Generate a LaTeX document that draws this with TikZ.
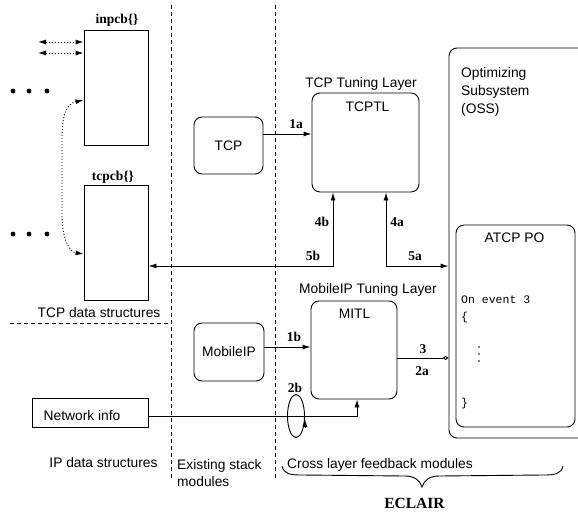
\documentclass[tikz,border=0pt]{standalone}
\usepackage{fontspec}
\setmainfont{Liberation Sans}
\newfontfamily\tnr{Liberation Serif}
\setmonofont{Liberation Mono}
\usetikzlibrary{arrows.meta,shapes.geometric}
\begin{document}
\begin{tikzpicture}[x=1pt,y=-1pt,
  every node/.style={inner sep=0pt, font=\fontsize{13.8}{18}\selectfont},
  ln/.style={line width=0.9pt},
  rbox/.style={draw, line width=0.9pt, rounded corners=8pt},
  sbox/.style={draw, line width=0.9pt},
  num/.style={font=\tnr\bfseries\fontsize{13.5}{16}\selectfont},
  code/.style={font=\ttfamily\fontsize{11.5}{14}\selectfont},
  dsh/.style={line width=0.9pt, dash pattern=on 4pt off 3pt},
  dotl/.style={line width=0.9pt, dash pattern=on 1pt off 2pt},
  >={Latex[length=8pt,width=5pt]}
]
\useasboundingbox (0,0) rectangle (578,512);

% separators
\draw[dsh] (171,5) -- (171,480);
\draw[dsh] (275,5) -- (275,478);
\draw[dsh] (10,323) -- (171,323);

% TCP data structures
\node[sbox, minimum width=64pt, minimum height=115pt] (inpcb) at (116,87.5) {};
\node[num] (inpcbl) at (117,20) {inpcb\{\}};
\node[sbox, minimum width=64pt, minimum height=115pt] (tcpcb) at (116,242.5) {};
\node[num] (tcpcbl) at (113,177) {tcpcb\{\}};
\node (tcpds) at (99,313) {TCP data structures};

\coordinate (da1) at (38,42);
\coordinate (da2) at (38,53);
\draw[dotl,<->] (da1) -- (da1 -| inpcb.west);
\draw[dotl,<->] (da2) -- (da2 -| inpcb.west);
\foreach \x in {13,29,47} {\fill (\x,91) circle (2.4pt); \fill (\x,234) circle (2.4pt);}
\draw[dotl,<->] (inpcb.west |- 0,100) .. controls (66,104) and (62,115) .. (62,140) -- (62,215)
   .. controls (62,240) and (70,252) .. (tcpcb.west |- 0,254);

% existing stack modules
\node[rbox, minimum width=69pt, minimum height=57pt] (tcp) at (228.5,145.5) {TCP};
\node[rbox, minimum width=70pt, minimum height=58pt] (mip) at (229,352) {MobileIP};

% TCPTL
\node (tcptll) at (361,84) {TCP Tuning Layer};
\node[rbox, minimum width=107pt, minimum height=99pt] (tcptl) at (365.5,142.5) {};
\node (tcptlt) at (367.5,107) {TCPTL};
\draw[ln,->] (tcp.east |- 0,134) -- (tcptl.west |- 0,134);
\node[num] (l1a) at (296,124) {1a};

% MITL
\node (mitll) at (368,290) {MobileIP Tuning Layer};
\node[rbox, minimum width=86pt, minimum height=98pt] (mitl) at (354,350) {};
\node (mitlt) at (354.5,314) {MITL};
\draw[ln,->] (mip.east |- 0,347) -- (mitl.west |- 0,347);
\node[num] (l1b) at (294,337) {1b};

% OSS
\node[rbox, minimum width=140pt, minimum height=390pt] (oss) at (519,243) {};
\node[anchor=base west, align=left] (ossl) at (461,113) {Optimizing\\Subsystem\\(OSS)};
\node[rbox, minimum width=119pt, minimum height=202pt] (atcp) at (515.5,326) {};
\node (atcpl) at (514.5,238) {ATCP PO};
\node[code, anchor=base west] (c1) at (461,303) {On event 3};
\node[code, anchor=base west] (c2) at (461,320) {\{};
\foreach \y in {347,354,361} {\fill (479,\y) circle (0.9pt);}
\node[code, anchor=base west] (c4) at (461,406) {\}};

% 4/5 arrows
\coordinate (j4b) at (333,266);
\coordinate (j4a) at (386,266);
\draw[ln,<->] (tcpcb.east |- j4b) -- (j4b) -- (j4b |- tcptl.south);
\draw[ln,<->] (j4a |- tcptl.south) -- (j4a) -- (oss.west |- j4a);
\node[num] (l4b) at (322,222) {4b};
\node[num] (l4a) at (397,222) {4a};
\node[num] (l5b) at (313,256) {5b};
\node[num] (l5a) at (415,256) {5a};

% 3 / 2a
\draw[ln,-{Diamond[open,length=6pt,width=4pt]}] (mitl.east |- 0,358) -- (oss.west |- 0,358);
\node[num] (l3) at (423,349) {3};
\node[num] (l2a) at (422,371) {2a};

% network info
\node[sbox, minimum width=116pt, minimum height=29pt] (net) at (90,412.5) {};
\node (netl) at (82,416) {Network info};
\coordinate (nj) at (357,416);
\draw[ln,->] (net.east |- nj) -- (nj) -- (nj |- mitl.south);
\node[draw, ln, ellipse, minimum width=17pt, minimum height=43pt] (loop) at (296,416) {};
\draw[ln,->] ([yshift=-11pt]loop.east) -- ([yshift=-3pt]loop.east);
\node[num] (l2b) at (295,388) {2b};

% bottom labels
\node (ipds) at (103.5,463) {IP data structures};
\node[anchor=base west, align=left, font=\fontsize{13.8}{17}\selectfont] (exist) at (177,486) {Existing stack\\modules};
\node[anchor=base west] (cross) at (287,468) {Cross layer feedback modules};
\draw[ln] (282,466) .. controls (284,474) and (290,475) .. (302,475) -- (405,476)
  .. controls (414,476) and (420,480) .. (422,487)
  .. controls (424,480) and (430,476) .. (439,476) -- (543,475)
  .. controls (555,475) and (561,474) .. (563,466);
\node[font=\tnr\bfseries\fontsize{15.5}{18}\selectfont] (eclair) at (414.5,503) {ECLAIR};
\end{tikzpicture}
\end{document}
